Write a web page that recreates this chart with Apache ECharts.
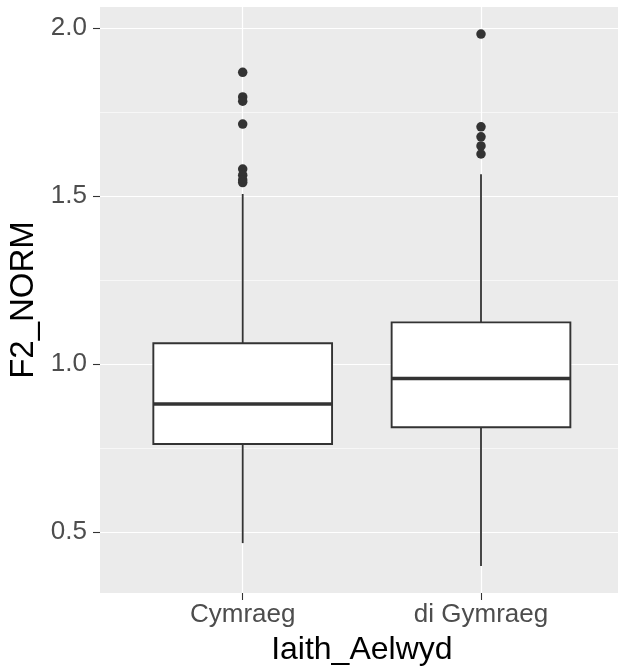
<!DOCTYPE html>
<html><head><meta charset="utf-8">
<script src="https://cdn.jsdelivr.net/npm/echarts@6/dist/echarts.min.js"></script>
<style>html,body{margin:0;padding:0;background:#fff}#c{width:618px;height:668px}</style>
</head><body><div id="c"></div>
<script>
const categories = ['Cymraeg', 'di Gymraeg'];
const whiskerLow = [0.467, 0.399];
const q1 = [0.762, 0.812];
const median = [0.881, 0.957];
const q3 = [1.062, 1.124];
const whiskerHigh = [1.506, 1.565];
const outliersCymraeg = [1.868, 1.795, 1.782, 1.714, 1.58, 1.562, 1.548, 1.54];
const outliersDiGymraeg = [1.982, 1.706, 1.676, 1.649, 1.625];
const yMajorTicks = [0.5, 1.0, 1.5, 2.0];
const yMinorTicks = [0.75, 1.25, 1.75];
const yLimits = [0.3185, 2.0625];

const FONT = 'Liberation Sans, Arial, sans-serif';
const boxData = categories.map((c, i) => [i, whiskerLow[i], q1[i], median[i], q3[i], whiskerHigh[i]]);
const outlierData = [
  ...outliersCymraeg.map(v => [categories[0], v]),
  ...outliersDiGymraeg.map(v => [categories[1], v])
];

const chart = echarts.init(document.getElementById('c'), null, {renderer: 'canvas'});
const option = {
  animation: false,
  grid: [
    {left: 100, top: 7, width: 524, bottom: 75, show: true, backgroundColor: '#EBEBEB', borderWidth: 0,
     containLabel: false, outerBoundsMode: 'none'},
    {left: 123.55, top: 7, width: 476.6, bottom: 75, show: false,
     containLabel: false, outerBoundsMode: 'none'}
  ],
  xAxis: [
    {type: 'value', gridIndex: 0, min: 0, max: 1, show: false},
    {type: 'category', gridIndex: 1, data: categories, boundaryGap: true,
     axisLine: {show: false},
     axisTick: {show: true, alignWithLabel: true, length: 7, lineStyle: {color: '#333333', width: 1.1}},
     axisLabel: {color: '#4D4D4D', fontSize: 26, fontFamily: FONT, margin: 9},
     splitLine: {show: false},
     name: 'Iaith_Aelwyd', nameLocation: 'middle', nameGap: 41,
     nameTextStyle: {color: '#000', fontSize: 32, fontFamily: FONT}}
  ],
  yAxis: [
    {type: 'value', gridIndex: 0, min: yLimits[0], max: yLimits[1],
     axisLine: {show: false},
     axisTick: {show: true, length: 7, customValues: yMajorTicks, lineStyle: {color: '#333333', width: 1.1}},
     axisLabel: {color: '#4D4D4D', fontSize: 26, fontFamily: FONT, margin: 13, customValues: yMajorTicks,
                 formatter: v => v.toFixed(1)},
     splitLine: {show: true, lineStyle: {color: '#FFFFFF', width: 1.2}},
     name: 'F2_NORM', nameLocation: 'middle', nameGap: 52,
     nameTextStyle: {color: '#000', fontSize: 33, fontFamily: FONT}},
    {type: 'value', gridIndex: 0, min: yLimits[0], max: yLimits[1], position: 'left',
     axisLine: {show: false},
     axisTick: {show: false, customValues: yMinorTicks},
     axisLabel: {show: false, customValues: yMinorTicks},
     splitLine: {show: true, lineStyle: {color: '#FFFFFF', width: 0.6}}},
    {type: 'value', gridIndex: 1, min: yLimits[0], max: yLimits[1], show: false, splitLine: {show: false}}
  ],
  series: [
    {type: 'line', xAxisIndex: 1, yAxisIndex: 2, data: [], z: 1, silent: true,
     markLine: {silent: true, z: 1, symbol: ['none', 'none'], label: {show: false}, animation: false,
                lineStyle: {color: '#FFFFFF', width: 1.2, type: 'solid'},
                emphasis: {disabled: true},
                data: categories.map(c => ({xAxis: c}))}},
    {type: 'custom', xAxisIndex: 1, yAxisIndex: 2, z: 10, data: boxData,
     encode: {x: 0, y: [1, 2, 3, 4, 5]},
     renderItem: function (params, api) {
       const x = api.value(0);
       const lo = api.coord([x, api.value(1)]);
       const b1 = api.coord([x, api.value(2)]);
       const md = api.coord([x, api.value(3)]);
       const b3 = api.coord([x, api.value(4)]);
       const hi = api.coord([x, api.value(5)]);
       const w = api.size([1, 0])[0] * 0.75;
       const cx = lo[0];
       const st = {stroke: '#333333', lineWidth: 1.8, fill: null};
       return {type: 'group', children: [
         {type: 'line', shape: {x1: cx, y1: lo[1], x2: cx, y2: b1[1]}, style: st},
         {type: 'line', shape: {x1: cx, y1: b3[1], x2: cx, y2: hi[1]}, style: st},
         {type: 'rect', shape: {x: cx - w / 2, y: b3[1], width: w, height: b1[1] - b3[1]},
          style: {fill: '#FFFFFF', stroke: '#333333', lineWidth: 1.9}},
         {type: 'line', shape: {x1: cx - w / 2, y1: md[1], x2: cx + w / 2, y2: md[1]},
          style: {stroke: '#333333', lineWidth: 3.6}}
       ]};
     }},
    {type: 'scatter', xAxisIndex: 1, yAxisIndex: 2, z: 11, data: outlierData,
     symbol: 'circle', symbolSize: 9.5, itemStyle: {color: '#333333', opacity: 1}}
  ]
};
chart.setOption(option);
</script></body></html>
